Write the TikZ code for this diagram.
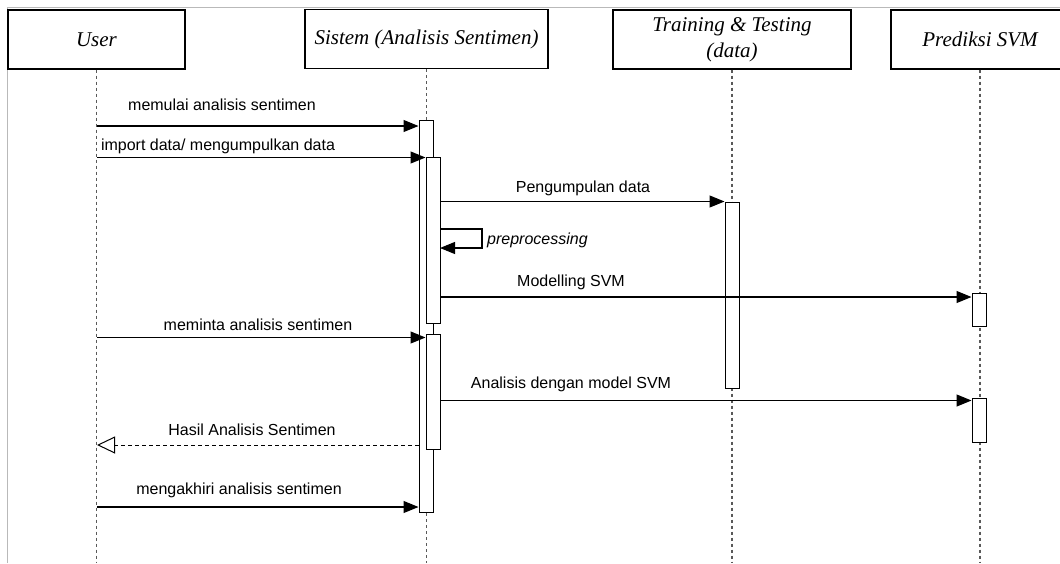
\documentclass[tikz,border=0pt]{standalone}
\usepackage{fontspec}
\setmainfont{Liberation Serif}
\setsansfont{Liberation Sans}
\usetikzlibrary{arrows.meta}

\begin{document}
\begin{tikzpicture}[x=1pt,y=-1pt,
  head/.style={draw=black, line width=1.2pt, fill=white, minimum height=59pt,
    inner sep=0pt, align=center, font=\fontsize{21}{26}\selectfont\itshape},
  lifeline/.style={draw=black!65, line width=1.1pt, dash pattern=on 3pt off 3pt},
  act/.style={draw=black, line width=1pt, fill=white, minimum width=14pt, inner sep=0pt},
  msg/.style={draw=black, line width=1.1pt, -{Triangle[length=15pt,width=12pt]}},
  ret/.style={draw=black, line width=1pt, dash pattern=on 4pt off 3pt,
    -{Triangle[open, length=18pt, width=17pt, fill=white]}},
  lbl/.style={inner sep=0pt, font=\sffamily\fontsize{16}{19}\selectfont}
]
\clip (0,0) rectangle (1060,563);
\fill[white] (0,0) rectangle (1060,563);

% page frame
\draw[gray!55, line width=1.5pt] (7.5,563) -- (7.5,7.5) -- (1060,7.5);

% lifeline headers
\node[head, minimum width=177pt] (user) at (96.5,39.5) {User};
\node[head, minimum width=243pt] (sys)  at (426.5,39) {Sistem (Analisis Sentimen)};
\node[head, minimum width=238pt] (tt)   at (732,39.5) {Training \& Testing\\(data)};
\node[head, minimum width=178pt] (svm)  at (980,39.5) {Prediksi SVM};

% lifelines
\coordinate (bottom) at (0,563);
\draw[lifeline] (user.south) -- (user.south |- bottom);
\draw[lifeline] (sys.south) -- (sys.south |- bottom);
\draw[lifeline] (tt.south) -- (tt.south |- bottom);
\draw[lifeline] (svm.south) -- (svm.south |- bottom);

% activation bars
\node[act, minimum height=392pt] (s1) at (426,316) {};
\node[act, minimum height=166pt] (s2) at (433,240) {};
\node[act, minimum height=115pt] (s3) at (433,391.5) {};
\node[act, minimum height=186pt] (t1) at (732,295) {};
\node[act, minimum height=33pt]  (p1) at (979,309.5) {};
\node[act, minimum height=44pt]  (p2) at (979,420) {};

% messages
\coordinate (m1) at (97,126);
\draw[msg] (m1) -- (m1 -| s1.west);
\node[lbl] (l1) at (222,105) {memulai analisis sentimen};

\coordinate (m2) at (97,157.5);
\draw[msg] (m2) -- (m2 -| s2.west);
\node[lbl] (l2) at (218,146) {import data/ mengumpulkan data};

\coordinate (m3) at (440,201.5);
\draw[msg] (m3) -- (m3 -| t1.west);
\node[lbl] (l3) at (583,188) {Pengumpulan data};

% self call
\coordinate (r1) at (440,229);
\coordinate (r2) at (482,229);
\coordinate (r3) at (482,248);
\coordinate (r4) at (440,248);
\draw[msg] (r1) -- (r2) -- (r3) -- (r4);
\node[lbl, anchor=west, font=\sffamily\itshape\fontsize{16}{19}\selectfont] (l4) at (487,240) {preprocessing};

\coordinate (m5) at (440,297);
\draw[msg] (m5) -- (m5 -| p1.west);
\node[lbl] (l5) at (571,282) {Modelling SVM};

\coordinate (m6) at (97,337.5);
\draw[msg] (m6) -- (m6 -| s3.west);
\node[lbl] (l6) at (258,325) {meminta analisis sentimen};

\coordinate (m7) at (440,400.5);
\draw[msg] (m7) -- (m7 -| p2.west);
\node[lbl] (l7) at (571,384) {Analisis dengan model SVM};

\coordinate (m8) at (97,445);
\draw[ret] (m8 -| s1.west) -- (m8);
\node[lbl] (l8) at (252,429.5) {Hasil Analisis Sentimen};

\coordinate (m9) at (97,507);
\draw[msg] (m9) -- (m9 -| s1.west);
\node[lbl] (l9) at (239,490) {mengakhiri analisis sentimen};
\end{tikzpicture}
\end{document}
